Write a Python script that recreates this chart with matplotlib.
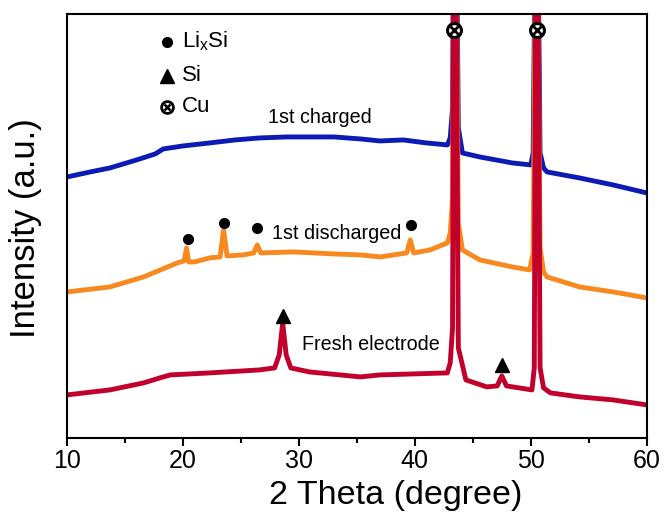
import matplotlib
matplotlib.use("Agg")
import matplotlib.pyplot as plt
import numpy as np

plt.rcParams['font.family'] = ['Liberation Sans', 'DejaVu Sans']
plt.rcParams['mathtext.default'] = 'regular'

# 2 theta (deg) / intensity (a.u.) key points
charged_x = [10, 12, 13.7, 16, 17.6, 18.3, 20, 22.3, 24.5, 26.6, 29, 30.9, 33, 35.3, 37, 39, 41, 42.8,
             43.05, 43.25, 43.35, 43.45, 43.55, 43.75, 44.1, 45.6, 48.4, 50.0,
             50.2, 50.4, 50.5, 50.6, 50.8, 51.1, 51.4, 54.2, 57.1, 60]
charged_y = [261, 266, 270, 278, 284, 289, 292, 295, 298, 300, 301, 301, 301, 299, 297, 298, 295, 293,
             300, 330, 560, 1000, 560, 310, 285, 281, 275, 273,
             285, 520, 1000, 520, 285, 270, 266, 260, 253, 245]

discharged_x = [10, 13.7, 16.6, 19.5, 20.1, 20.3, 20.5, 21, 22.3, 23.2, 23.5, 23.8, 25.2, 26.1, 26.4, 26.7,
                29.5, 33, 35.3, 37, 39.3, 39.6, 39.9, 41.3, 42.8,
                43.05, 43.25, 43.35, 43.45, 43.55, 43.75, 44.1, 45.6, 48.4, 49.9,
                50.2, 50.4, 50.5, 50.6, 50.8, 51.1, 51.4, 54.2, 57.1, 60]
discharged_y = [146, 151, 161, 175, 177, 190, 176, 176, 180, 181, 208, 182, 183, 185, 193, 185,
                186, 184, 183, 181, 185, 198, 185, 188, 195,
                205, 240, 520, 1000, 520, 215, 188, 178, 171, 168,
                185, 480, 1000, 480, 190, 166, 161, 151, 146, 140]

fresh_x = [10, 13.7, 16.6, 18.0, 18.9, 22.3, 26.6, 27.9, 28.3, 28.6, 28.9, 29.3, 30.9, 35.3, 37, 42.8,
           43.05, 43.25, 43.35, 43.45, 43.55, 43.75, 44.4, 46.2, 47.1, 47.5, 47.9, 49, 50.1,
           50.3, 50.42, 50.52, 50.62, 50.8, 51.1, 51.7, 54.2, 57.1, 60]
fresh_y = [43, 48, 55, 60, 63, 65, 68, 70, 83, 115, 83, 70, 66, 61, 63, 65,
           75, 110, 480, 1000, 480, 90, 58, 51, 52, 62, 52, 50, 48,
           70, 460, 1000, 460, 70, 50, 45, 41, 38, 33]

# phase markers
lixsi_x = [20.4, 23.5, 26.4, 39.7]
lixsi_y = [199, 215, 210, 213]
si_x = [28.6, 47.5]
si_y = [122, 73]
cu_x = [43.4, 50.5]
cu_y = [408, 408]

blue = '#0d1ab4'
orange = '#f7891f'
red = '#c2002c'

fig = plt.figure(figsize=(6.64, 5.17), dpi=100)
ax = fig.add_axes([0.101, 0.153, 0.873, 0.820])

ax.plot(charged_x, charged_y, color=blue, lw=3.5, solid_joinstyle='round')
ax.plot(discharged_x, discharged_y, color=orange, lw=3.5, solid_joinstyle='round')
ax.plot(fresh_x, fresh_y, color=red, lw=3.5, solid_joinstyle='round')

ax.plot(lixsi_x, lixsi_y, 'o', color='black', ms=7)
ax.plot(si_x, si_y, '^', color='black', ms=10)
ax.plot(cu_x, cu_y, 'o', mfc='white', mec='black', mew=2.2, ms=10, zorder=5)
ax.plot(cu_x, cu_y, 'x', color='black', mew=2, ms=6, zorder=6)

# key in the upper left
ax.plot([18.6], [396], 'o', color='black', ms=7)
ax.plot([18.6], [362], '^', color='black', ms=9.5)
ax.plot([18.6], [331], 'o', mfc='white', mec='black', mew=2, ms=8.5)
ax.plot([18.6], [331], 'x', color='black', mew=1.8, ms=5)
ax.text(19.9, 397, 'Li$_{x}$Si', fontsize=16, va='center')
ax.text(19.9, 362, 'Si', fontsize=16, va='center')
ax.text(19.9, 331, 'Cu', fontsize=16, va='center')

ax.text(27.3, 320, '1st charged', fontsize=14.2, va='center')
ax.text(27.7, 204, '1st discharged', fontsize=14.2, va='center')
ax.text(30.3, 93, 'Fresh electrode', fontsize=14.2, va='center')

ax.set_xlim(10, 60)
ax.set_ylim(0, 424)
ax.set_xticks([10, 20, 30, 40, 50, 60])
ax.set_xticks([15, 25, 35, 45, 55], minor=True)
ax.set_yticks([])
ax.tick_params(axis='x', which='major', direction='out', length=6, width=1.5, labelsize=18, pad=2)
ax.tick_params(axis='x', which='minor', direction='out', length=3.5, width=1.5)
for s in ax.spines.values():
    s.set_linewidth(1.5)

fig.text(0.596, 0.026, '2 Theta (degree)', fontsize=24.5, ha='center', va='baseline')
fig.text(0.038, 0.559, 'Intensity (a.u.)', fontsize=25, rotation=90, ha='center', va='center')

fig.savefig('out.png', dpi=100)
